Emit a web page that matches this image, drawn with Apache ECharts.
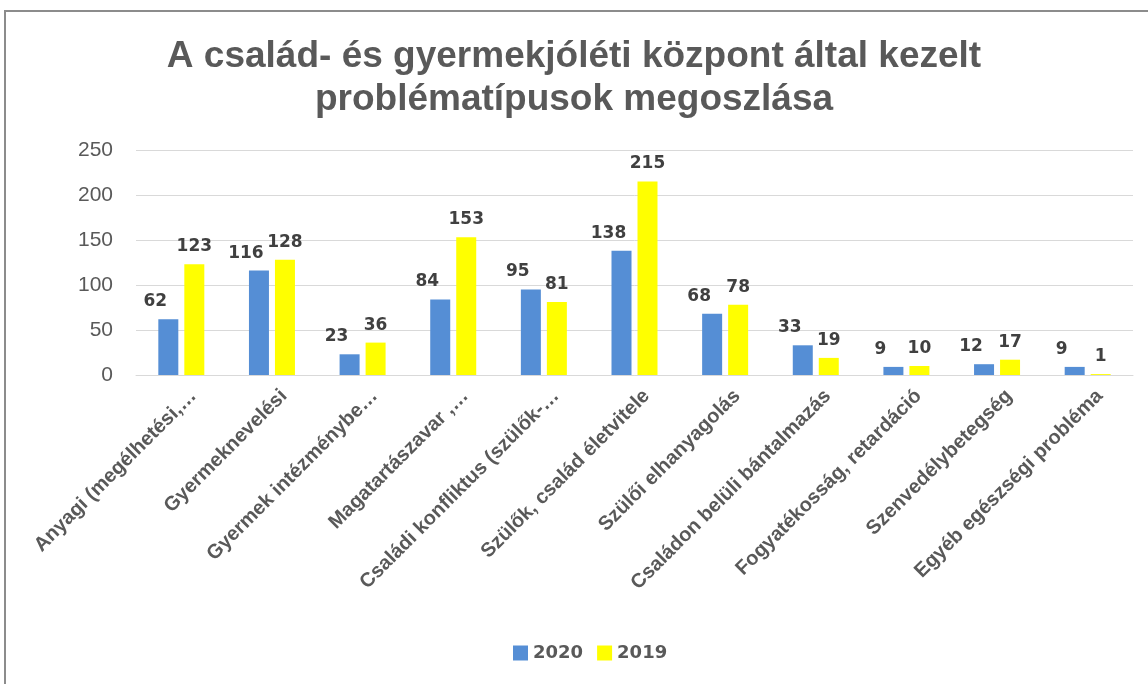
<!DOCTYPE html>
<html>
<head>
<meta charset="utf-8">
<script src="https://cdn.jsdelivr.net/npm/echarts@6/dist/echarts.min.js"></script>
<style>
  html, body { margin: 0; padding: 0; background: #fff; }
  #frame {
    position: absolute; left: 4px; top: 10px; width: 1160px; height: 700px;
    border-left: 2px solid #8c8c8c; border-top: 2px solid #8c8c8c;
    pointer-events: none;
  }
  #chart { position: absolute; left: 0; top: 0; width: 1148px; height: 684px; }
</style>
</head>
<body>
<div id="chart"></div>
<div id="frame"></div>
<script>
// kategóriák (a tengely feliratai úgy, ahogy az eredeti diagramon le vannak vágva)
var categories = [
  'Anyagi (megélhetési,…',
  'Gyermeknevelési',
  'Gyermek intézménybe…',
  'Magatartászavar ,…',
  'Családi konfliktus (szülők-…',
  'Szülők, család életvitele',
  'Szülői elhanyagolás',
  'Családon belüli bántalmazás',
  'Fogyatékosság, retardáció',
  'Szenvedélybetegség',
  'Egyéb egészségi probléma'
];
var values2020 = [62, 116, 23, 84, 95, 138, 68, 33, 9, 12, 9];
var values2019 = [123, 128, 36, 153, 81, 215, 78, 19, 10, 17, 1];
var yTicks = [0, 50, 100, 150, 200, 250];

var chart = echarts.init(document.getElementById('chart'));

var labelStyle = {
  show: true,
  position: 'top',
  distance: 9,
  fontFamily: 'DejaVu Sans',
  fontWeight: 'bold',
  fontSize: 17,
  color: '#404040'
};

chart.setOption({
  animation: false,
  title: {
    text: 'A család- és gyermekjóléti központ által kezelt\nproblématípusok megoszlása',
    left: 'center',
    top: 30,
    textStyle: {
      fontFamily: 'Liberation Sans',
      fontWeight: 'bold',
      fontSize: 37,
      lineHeight: 43,
      color: '#595959'
    }
  },
  legend: {
    bottom: 17,
    left: 508,
    itemWidth: 15,
    itemHeight: 15,
    itemGap: 14,
    icon: 'rect',
    textStyle: {
      fontFamily: 'DejaVu Sans',
      fontWeight: 'bold',
      fontSize: 18,
      color: '#595959'
    },
    data: ['2020', '2019']
  },
  grid: { left: 136, right: 15, top: 150, bottom: 309 },
  xAxis: {
    type: 'category',
    data: categories,
    axisLine: { lineStyle: { color: '#d9d9d9', width: 1 } },
    axisTick: { show: false },
    axisLabel: {
      interval: 0,
      rotate: 45,
      margin: 6,
      verticalAlign: 'top',
      lineHeight: 34,
      fontFamily: 'Liberation Sans',
      fontWeight: 'bold',
      fontSize: 20,
      color: '#595959'
    }
  },
  yAxis: {
    type: 'value',
    min: yTicks[0],
    max: yTicks[yTicks.length - 1],
    interval: 50,
    axisLine: { show: false },
    axisTick: { show: false },
    splitLine: { lineStyle: { color: '#d9d9d9', width: 1 } },
    axisLabel: {
      margin: 23,
      fontFamily: 'Liberation Sans',
      fontSize: 21,
      color: '#595959'
    }
  },
  series: [
    {
      name: '2020',
      type: 'bar',
      data: values2020,
      barWidth: 20,
      barGap: '30%',
      itemStyle: { color: '#558ed5' },
      label: Object.assign({}, labelStyle, { offset: [-13, 0] })
    },
    {
      name: '2019',
      type: 'bar',
      data: values2019,
      barWidth: 20,
      itemStyle: { color: '#ffff00' },
      label: labelStyle
    }
  ]
});
</script>
</body>
</html>
